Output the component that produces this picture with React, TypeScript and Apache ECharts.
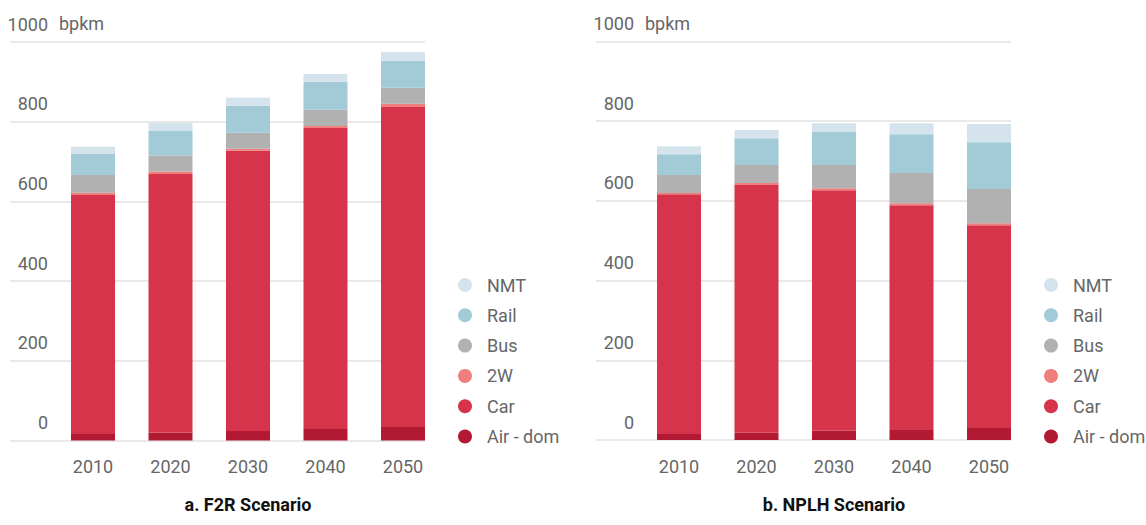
import React, { useEffect, useRef } from "react";
import * as echarts from "echarts";

const years = ["2010", "2020", "2030", "2040", "2050"];
const seriesNames = ["Air - dom", "Car", "2W", "Bus", "Rail", "NMT"];
const legendOrder = ["NMT", "Rail", "Bus", "2W", "Car", "Air - dom"];
const colors: Record<string, string> = {
  "Air - dom": "#b11a32",
  Car: "#d6344b",
  "2W": "#ee7f7d",
  Bus: "#b1b1b1",
  Rail: "#a2cbd7",
  NMT: "#d5e3ec",
};

// a. F2R Scenario (bpkm)
const f2rAir = [16, 20, 24, 29, 34];
const f2rCar = [600, 649, 703, 755, 803];
const f2r2W = [6, 6, 5, 5, 8];
const f2rBus = [44, 40, 40, 41, 40];
const f2rRail = [53, 63, 68, 70, 68];
const f2rNMT = [18, 19, 20, 20, 22];

// b. NPLH Scenario (bpkm)
const nplhAir = [15, 18, 23, 25, 30];
const nplhCar = [602, 622, 604, 564, 509];
const nplh2W = [3, 5, 5, 5, 5];
const nplhBus = [45, 45, 58, 76, 86];
const nplhRail = [52, 67, 83, 97, 117];
const nplhNMT = [20, 21, 22, 28, 46];

const yTicks = { min: 0, max: 1000, interval: 200 };
const titles = ["a. F2R Scenario", "b. NPLH Scenario"];
const unitLabel = "bpkm";

const FONT = 'Roboto, "Liberation Sans", sans-serif';

export default function App() {
  const ref = useRef<HTMLDivElement>(null);
  useEffect(() => {
    if (!ref.current) return;
    const chart = echarts.init(ref.current, undefined, { renderer: "svg" });
    const f2r = [f2rAir, f2rCar, f2r2W, f2rBus, f2rRail, f2rNMT];
    const nplh = [nplhAir, nplhCar, nplh2W, nplhBus, nplhRail, nplhNMT];

    const barGrids = [
      { left: 54.25, width: 387.5, top: 42, height: 398.5 },
      { left: 640.25, width: 387.5, top: 41.5, height: 398.5 },
    ];
    const lineGrids = [
      { left: 10, width: 415, top: 42, height: 398.5 },
      { left: 596, width: 415, top: 41.5, height: 398.5 },
    ];

    const series: any[] = [];
    [f2r, nplh].forEach((set, gi) => {
      set.forEach((vals, si) => {
        const name = seriesNames[si];
        series.push({
          type: "bar",
          name,
          stack: "s" + gi,
          xAxisIndex: gi,
          yAxisIndex: gi,
          barWidth: 44,
          itemStyle: { color: colors[name] },
          data: vals,
        });
      });
    });

    const labelStyle = { fontFamily: FONT, fontSize: 18, color: "#666" };

    const option: any = {
      animation: false,
      grid: [...barGrids, ...lineGrids],
      xAxis: [
        ...[0, 1].map((i) => ({
          type: "category",
          gridIndex: i,
          data: years,
          axisLine: { show: false },
          axisTick: { show: false },
          axisLabel: { ...labelStyle, margin: 17 },
          name: titles[i],
          nameLocation: "middle",
          nameGap: 55,
          nameTextStyle: { fontFamily: FONT, fontSize: 18, fontWeight: "bold", color: "#111" },
        })),
        ...[2, 3].map((i) => ({ type: "value", gridIndex: i, show: false })),
      ],
      yAxis: [
        ...[0, 1].map((i) => ({
          type: "value",
          gridIndex: i,
          ...yTicks,
          show: false,
          splitLine: { show: false },
        })),
        ...[2, 3].map((i) => ({
          type: "value",
          gridIndex: i,
          ...yTicks,
          axisLine: { show: false },
          axisTick: { show: false },
          splitLine: { show: true, lineStyle: { color: "#e2e2e2", width: 1.5 } },
          axisLabel: {
            ...labelStyle,
            inside: true,
            margin: 38,
            align: "right",
            verticalAlign: "bottom",
            padding: [0, 0, 9, 0],
            formatter: (v: number) => String(v),
          },
        })),
      ],
      legend: [
        { left: 458, top: 276 },
        { left: 1044, top: 276 },
      ].map((pos) => ({
        ...pos,
        orient: "vertical",
        icon: "circle",
        itemWidth: 34,
        itemHeight: 14,
        itemGap: 12.3,
        padding: 0,
        data: legendOrder,
        textStyle: { ...labelStyle },
      })),
      graphic: [
        { type: "text", left: 59, top: 14, style: { text: unitLabel, fill: "#666", font: `18px ${FONT}` } },
        { type: "text", left: 645, top: 14, style: { text: unitLabel, fill: "#666", font: `18px ${FONT}` } },
      ],
      series,
    };
    chart.setOption(option);
    return () => chart.dispose();
  }, []);
  return (
    <div
      ref={ref}
      style={{ position: "fixed", left: 0, top: 0, width: 1146, height: 525, background: "#fff" }}
    />
  );
}
